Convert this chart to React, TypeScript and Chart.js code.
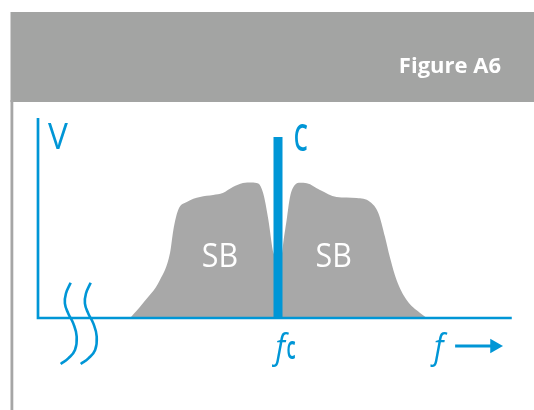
import React, { useEffect, useRef } from "react";
import { Chart, registerables } from "chart.js";

Chart.register(...registerables);

// ---- data (x: frequency units 0..100, y: voltage units) ----
const lowerSideband: [number, number][] = [
  [19.2, 0], [21.9, 7.5], [25.4, 19], [27.5, 32.5], [28.2, 44], [29.2, 54],
  [31.0, 58], [33.75, 60.5], [36.5, 61.5], [38.5, 62.5], [40.6, 65.5],
  [42.7, 67.5], [44.5, 67.8], [45.9, 67.2], [46.9, 62.5], [48.0, 49],
  [48.9, 34], [49.5, 25], [49.8, 0],
];
const upperSideband: [number, number][] = [
  [50.2, 0], [50.6, 25], [51.0, 35.5], [51.8, 49], [52.5, 60.5], [53.5, 66.5],
  [54.6, 67.6], [56.0, 67.4], [58.75, 64], [62.2, 60.5], [66.4, 60],
  [69.2, 58], [70.9, 52.5], [72.3, 40.5], [73.3, 30.5], [74.7, 19],
  [76.8, 9], [79.6, 2.5], [81.0, 0],
];
const carrierFrequency = 50;
const carrierLevel = 90.5;
const axisLine: [number, number][] = [[0, 100], [0, 0], [98.7, 0]];
const breakMarkA: [number, number][] = [
  [6.8, 17.6], [5.83, 12.3], [5.6, 7.3], [6.3, 2.3], [7.35, -2.7],
  [8.06, -9.3], [7.7, -16], [6.3, -20.2], [4.73, -23],
];
const breakMarkB: [number, number][] = [
  [10.97, 17.6], [10.0, 12.3], [9.77, 7.3], [10.47, 2.3], [11.52, -2.7],
  [12.23, -9.3], [11.9, -16], [10.5, -20.2], [8.9, -23],
];
const frequencyArrow: [number, number][] = [[86.9, -14], [95.1, -14]];

const labelTexts = ["V", "C", "SB", "SB"];
const labelX = [2.1, 53.3, 37.9, 61.6];
const labelY = [84.5, 83.5, 25.5, 25.5];
const figureTitle = "Figure A6";

const BLUE = "#0096d6";
const GRAY = "#a8a8a8";
const FONT = "'Open Sans', 'DejaVu Sans', sans-serif";

const pts = (a: [number, number][]) => a.map(([x, y]) => ({ x, y }));

function condensedText(ctx: any, text: string, x: number, y: number, sx: number) {
  ctx.save();
  ctx.translate(x, y);
  ctx.scale(sx, 1);
  ctx.fillText(text, 0, 0);
  ctx.restore();
}

const decorPlugin = {
  id: "decor",
  beforeDraw(chart: any) {
    const ctx = chart.ctx;
    ctx.save();
    ctx.fillStyle = "#a3a4a3";
    ctx.fillRect(10.5, 12, 524, 90);
    ctx.fillStyle = "#a6a6a6";
    ctx.fillRect(10.5, 100, 2.8, 310);
    ctx.fillStyle = "#ffffff";
    ctx.font = `bold 22px ${FONT}`;
    ctx.textAlign = "right";
    ctx.textBaseline = "alphabetic";
    ctx.fillText(figureTitle, 501, 73);
    ctx.restore();
  },
  afterDatasetsDraw(chart: any) {
    const ctx = chart.ctx;
    const xs = chart.scales.x;
    const ys = chart.scales.y;
    ctx.save();
    ctx.textBaseline = "alphabetic";
    labelTexts.forEach((t, i) => {
      const px = xs.getPixelForValue(labelX[i]);
      const py = ys.getPixelForValue(labelY[i]);
      if (t === "SB") {
        ctx.fillStyle = "#ffffff";
        ctx.font = `33px ${FONT}`;
        ctx.textAlign = "center";
        condensedText(ctx, t, px, py, 0.92);
      } else if (t === "C") {
        ctx.fillStyle = BLUE;
        ctx.font = `600 37px ${FONT}`;
        ctx.textAlign = "left";
        condensedText(ctx, t, px, py, 0.6);
      } else {
        ctx.fillStyle = BLUE;
        ctx.font = `37px ${FONT}`;
        ctx.textAlign = "left";
        condensedText(ctx, t, px, py, 0.9);
      }
    });
    // frequency labels under the axis
    const base = ys.getPixelForValue(-20.5);
    ctx.fillStyle = BLUE;
    ctx.textAlign = "left";
    ctx.font = `italic 34px ${FONT}`;
    condensedText(ctx, "f", xs.getPixelForValue(49.5), base, 0.9);
    ctx.font = `600 32px ${FONT}`;
    condensedText(ctx, "c", xs.getPixelForValue(51.75), base, 0.58);
    ctx.font = `italic 34px ${FONT}`;
    condensedText(ctx, "f", xs.getPixelForValue(82.5), base, 0.9);
    ctx.restore();
  },
};

export default function App() {
  const ref = useRef<HTMLCanvasElement | null>(null);
  useEffect(() => {
    if (!ref.current) return;
    const lineBase = {
      borderColor: BLUE,
      pointRadius: 0,
      fill: false,
      clip: false as any,
      tension: 0,
    };
    const chart = new Chart(ref.current, {
      type: "line",
      data: {
        datasets: [
          { ...lineBase, data: pts(axisLine), borderWidth: 2.7, borderJoinStyle: "miter" },
          {
            ...lineBase,
            data: pts(frequencyArrow),
            borderWidth: 2.8,
            pointRadius: [0, 8.5],
            pointStyle: "triangle",
            rotation: 90,
            pointBackgroundColor: BLUE,
            pointBorderColor: BLUE,
            pointBorderWidth: 0,
          },
          { ...lineBase, data: pts(breakMarkA), borderWidth: 2.6, tension: 0.45 },
          { ...lineBase, data: pts(breakMarkB), borderWidth: 2.6, tension: 0.45 },
          {
            ...lineBase,
            data: [{ x: carrierFrequency, y: 0 }, { x: carrierFrequency, y: carrierLevel }],
            borderWidth: 9,
            borderCapStyle: "butt",
          },
          {
            data: pts(lowerSideband),
            borderWidth: 0,
            borderColor: GRAY,
            backgroundColor: GRAY,
            fill: "origin",
            pointRadius: 0,
            cubicInterpolationMode: "monotone",
          },
          {
            data: pts(upperSideband),
            borderWidth: 0,
            borderColor: GRAY,
            backgroundColor: GRAY,
            fill: "origin",
            pointRadius: 0,
            cubicInterpolationMode: "monotone",
          },
        ] as any,
      },
      options: {
        animation: false,
        responsive: false,
        events: [],
        layout: { padding: { left: 38, right: 16, top: 118, bottom: 32 } },
        scales: {
          x: { type: "linear", min: 0, max: 100, display: false },
          y: { type: "linear", min: -30, max: 100, display: false },
        },
        plugins: { legend: { display: false }, tooltip: { enabled: false } },
      },
      plugins: [decorPlugin],
    });
    return () => chart.destroy();
  }, []);
  return (
    <div style={{ position: "absolute", left: 0, top: 0, width: 534, height: 410, background: "#fff" }}>
      <canvas ref={ref} width={534} height={410} style={{ position: "absolute", left: 0, top: 0 }} />
    </div>
  );
}
